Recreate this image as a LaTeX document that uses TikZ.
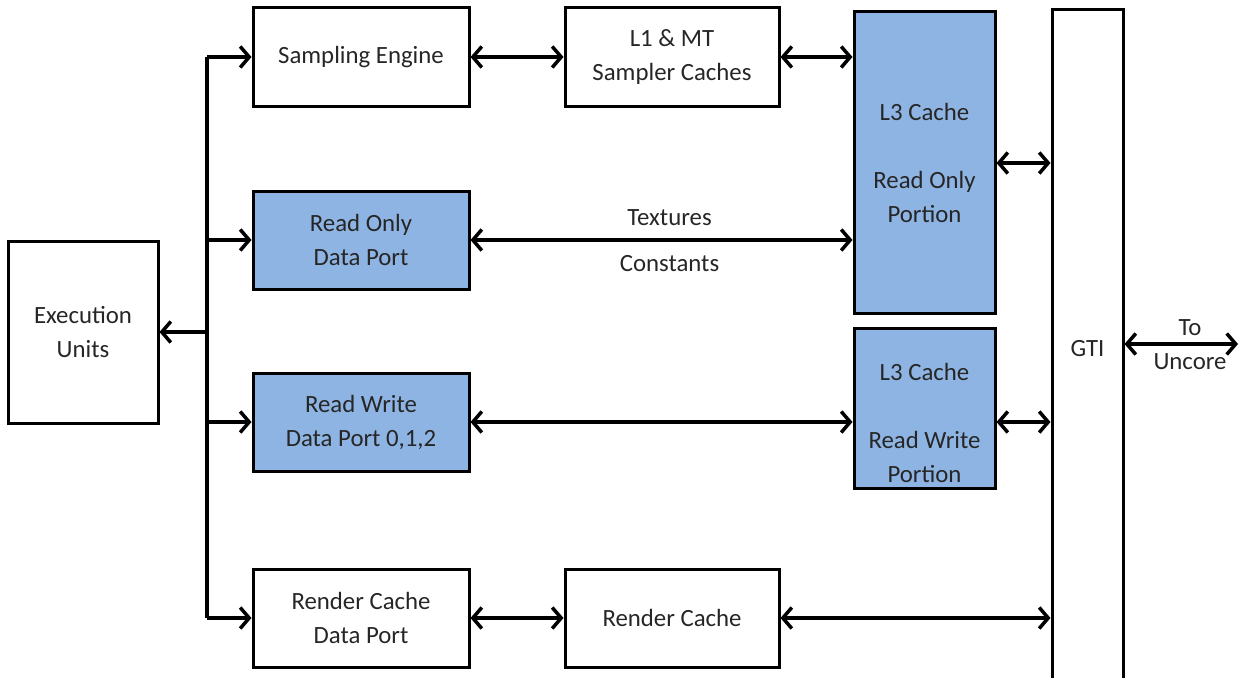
\documentclass[tikz,border=0pt]{standalone}
\usepackage{fontspec}
\setmainfont{Carlito}
\usetikzlibrary{arrows.meta}
\definecolor{portblue}{RGB}{142,180,227}
\definecolor{inkgrey}{RGB}{38,38,38}
\begin{document}
\begin{tikzpicture}[x=1pt,y=-1pt,
  box/.style={draw=black,line width=3pt,minimum width=216pt,minimum height=98pt,
    inner sep=0pt,align=center,text=inkgrey,font=\fontsize{24.8}{34}\selectfont},
  bluebox/.style={box,fill=portblue},
  txt/.style={inner sep=0pt,align=center,text=inkgrey,font=\fontsize{24.8}{34}\selectfont},
  tip/.tip={Straight Barb[length=9pt,width=21pt,line width=3.5pt]},
  link/.style={line width=3.8pt,{tip}-{tip}},
  feed/.style={line width=3.8pt,-{tip}},
  bus/.style={line width=3.8pt}]
\useasboundingbox (0,0) rectangle (1238,677);

% execution units and the distribution bus
\node[box,minimum width=150pt,minimum height=182pt] (eu) at (83,332) {Execution\\Units};
\coordinate (bt) at (207,57);
\coordinate (bm) at (207,332);
\coordinate (bb) at (207,618);

% first column: ports
\node[box] (se) at (361,57) {Sampling Engine};
\node[bluebox] (rodp) at (361,240) {Read Only\\Data Port};
\node[bluebox] (rwdp) at (361,422) {Read Write\\Data Port 0,1,2};
\node[box] (rcdp) at (361,618) {Render Cache\\Data Port};

% second column: caches
\node[box,minimum width=214pt] (l1) at (672,57) {L1 \& MT\\Sampler Caches};
\node[box,minimum width=214pt] (rc) at (672,618) {Render Cache};

% L3 cache portions
\node[bluebox,minimum width=141pt,minimum height=301pt] (l3ro) at (924.5,162.5) {L3 Cache\\[34pt]Read Only\\Portion};
\node[bluebox,minimum width=141pt,minimum height=160pt] (l3rw) at (924.5,408) {};
\node[txt] (l3rwt) at (924.5,423) {L3 Cache\\[34pt]Read Write\\Portion};

% GTI column, running off the lower edge
\node[box,minimum width=71pt,minimum height=700pt] (gti) at (1087.5,360) {};
\node[txt] (gtit) at (1087.5,349) {GTI};

% bus and feeds
\draw[bus] (bt) -- (bb);
\draw[feed] (bt) -- (se.west);
\draw[feed] (rodp.west -| bt) -- (rodp.west);
\draw[feed] (rwdp.west -| bt) -- (rwdp.west);
\draw[feed] (bb) -- (rcdp.west);
\draw[feed] (bm) -- (eu.east);

% cache links
\draw[link] (se.east) -- (l1.west);
\draw[link] (l1.east) -- (l1.east -| l3ro.west);
\draw[link] (rodp.east) -- (rodp.east -| l3ro.west)
  node[txt,pos=0.5,above=12pt,xshift=8pt] (tex) {Textures}
  node[txt,pos=0.5,below=14pt,xshift=8pt] (con) {Constants};
\draw[link] (rwdp.east) -- (rwdp.east -| l3rw.west);
\draw[link] (rcdp.east) -- (rc.west);
\coordinate (roa) at (995,163);
\draw[link] (l3ro.east |- roa) -- (gti.west |- roa);
\coordinate (rwa) at (995,422);
\draw[link] (l3rw.east |- rwa) -- (gti.west |- rwa);
\draw[link] (rc.east) -- (rc.east -| gti.west);

% link out to the uncore
\coordinate (unc) at (1238,344);
\draw[link] (gti.east |- unc) -- (unc);
\node[txt] (to) at (1190,328) {To};
\node[txt] (uncl) at (1190,362) {Uncore};
\end{tikzpicture}
\end{document}
